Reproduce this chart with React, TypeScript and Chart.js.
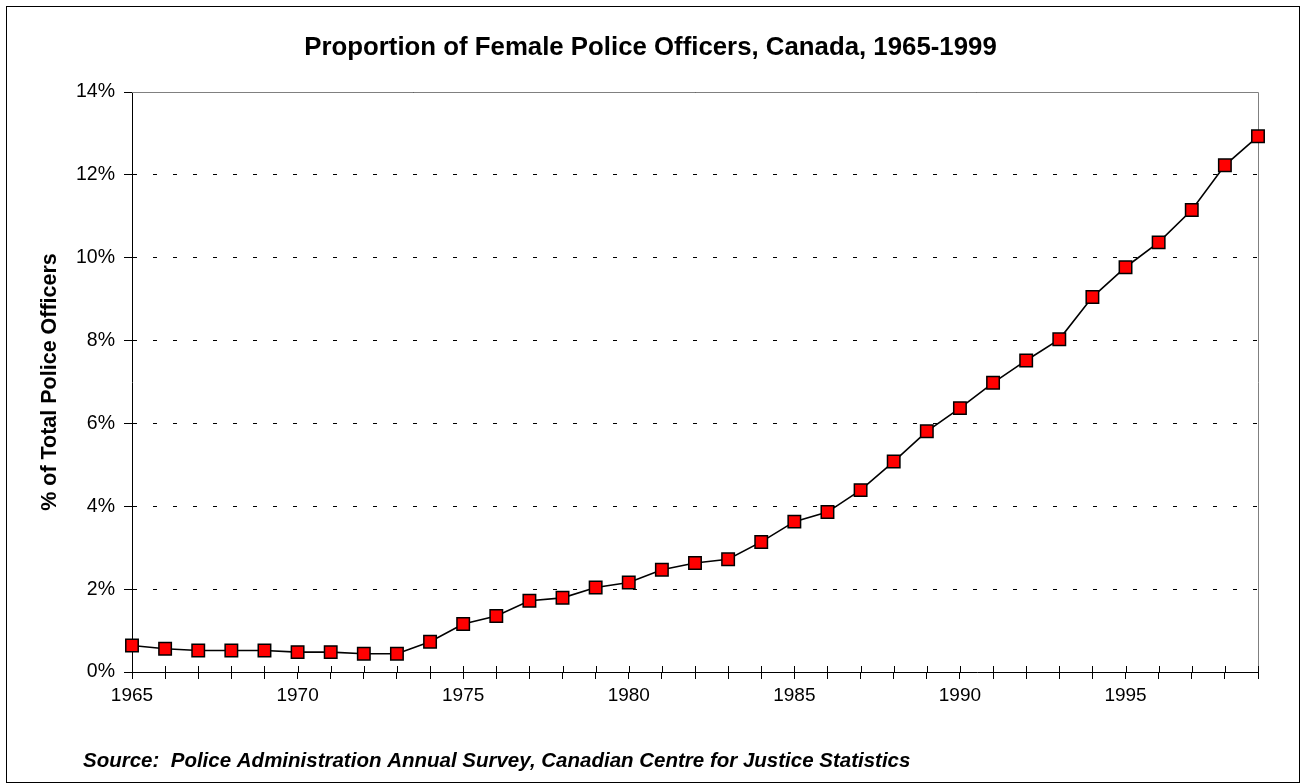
import React, { useEffect, useRef } from "react";
import { Chart, registerables } from "chart.js";

Chart.register(...registerables);

const FONT = "'Liberation Sans', Arial, Helvetica, sans-serif";

const years = [
  "1965", "1966", "1967", "1968", "1969", "1970", "1971", "1972", "1973", "1974",
  "1975", "1976", "1977", "1978", "1979", "1980", "1981", "1982", "1983", "1984",
  "1985", "1986", "1987", "1988", "1989", "1990", "1991", "1992", "1993", "1994",
  "1995", "1996", "1997", "1998", "1999",
];

const femaleOfficerPct = [
  0.64, 0.56, 0.52, 0.52, 0.52, 0.48, 0.48, 0.44, 0.44, 0.73,
  1.16, 1.35, 1.72, 1.79, 2.04, 2.16, 2.47, 2.63, 2.72, 3.14,
  3.63, 3.86, 4.39, 5.08, 5.81, 6.37, 6.98, 7.52, 8.03, 9.05,
  9.77, 10.37, 11.15, 12.23, 12.93,
];

const xLabelYears = ["1965", "1970", "1975", "1980", "1985", "1990", "1995"];

const chartTitle = "Proportion of Female Police Officers, Canada, 1965-1999";
const yAxisTitle = "% of Total Police Officers";
const sourceNote =
  "Source:  Police Administration Annual Survey, Canadian Centre for Justice Statistics";

const textPlugin = {
  id: "textDecor",
  afterDraw(chart: any) {
    const ctx = chart.ctx;
    ctx.save();
    ctx.fillStyle = "#000";
    ctx.textBaseline = "alphabetic";
    ctx.textAlign = "center";
    ctx.font = `bold 25.8px ${FONT}`;
    ctx.fillText(chartTitle, chart.width / 2, 55);
    ctx.textAlign = "left";
    ctx.font = `italic bold 20.5px ${FONT}`;
    ctx.fillText(sourceNote, 83, 767);
    ctx.restore();
  },
};

const plotFramePlugin = {
  id: "plotFrame",
  beforeDatasetsDraw(chart: any) {
    const { ctx, chartArea } = chart;
    const { left, right, top, bottom } = chartArea;
    ctx.save();
    ctx.strokeStyle = "#808080";
    ctx.lineWidth = 1;
    ctx.setLineDash([]);
    ctx.beginPath();
    ctx.moveTo(left, Math.round(top) + 0.5);
    ctx.lineTo(Math.round(right) + 0.5, Math.round(top) + 0.5);
    ctx.lineTo(Math.round(right) + 0.5, bottom);
    ctx.stroke();
    const xs = chart.scales.x;
    ctx.strokeStyle = "#000";
    ctx.beginPath();
    xs.ticks.forEach((_: any, i: number) => {
      const px = Math.round(xs.getPixelForTick(i)) + 0.5;
      ctx.moveTo(px, bottom - 6);
      ctx.lineTo(px, bottom);
    });
    ctx.stroke();
    ctx.restore();
  },
};

export default function App() {
  const canvasRef = useRef<HTMLCanvasElement | null>(null);

  useEffect(() => {
    document.body.style.margin = "0";
    document.body.style.overflow = "hidden";
    const canvas = canvasRef.current;
    if (!canvas) return;
    const chart = new Chart(canvas, {
      type: "line",
      data: {
        labels: years,
        datasets: [
          {
            data: femaleOfficerPct,
            borderColor: "#000",
            borderWidth: 1.6,
            tension: 0,
            pointStyle: "rect",
            pointRadius: 8.8,
            pointHoverRadius: 8.8,
            pointBackgroundColor: "#FF0000",
            pointBorderColor: "#000",
            pointBorderWidth: 1.5,
            clip: false as any,
          },
        ],
      },
      plugins: [plotFramePlugin, textPlugin],
      options: {
        animation: false,
        responsive: false,
        devicePixelRatio: 1,
        events: [],
        layout: { padding: { top: 92, right: 43, bottom: 62, left: 0 } },
        plugins: {
          legend: { display: false },
          tooltip: { enabled: false },
          title: { display: false },
        },
        scales: {
          x: {
            type: "category",
            offset: false,
            grid: {
              display: true,
              drawOnChartArea: false,
              drawTicks: true,
              tickLength: 7,
              color: "#000",
              tickColor: "#000",
              tickWidth: 1,
            },
            border: { display: true, color: "#000", width: 1 },
            ticks: {
              autoSkip: false,
              maxRotation: 0,
              minRotation: 0,
              padding: 5,
              color: "#000",
              font: { family: FONT, size: 19 },
              callback: (_v: any, index: number) =>
                xLabelYears.includes(years[index]) ? years[index] : "",
            },
            afterFit: (s: any) => {
              s.height = 50;
            },
          },
          y: {
            min: 0,
            max: 14,
            grid: {
              color: "#000",
              lineWidth: 1,
              drawTicks: true,
              tickLength: 8,
              tickColor: "#000",
              tickWidth: 1,
              tickBorderDash: [],
            },
            border: { display: true, color: "#000", width: 1, dash: [4, 16] },
            ticks: {
              stepSize: 2,
              padding: 9,
              color: "#000",
              font: { family: FONT, size: 19.5 },
              callback: (v: any) => `${v}%`,
            },
            title: {
              display: true,
              text: yAxisTitle,
              color: "#000",
              font: { family: FONT, size: 21.5, weight: "bold" },
              padding: { top: 37, bottom: 0 },
            },
            afterFit: (s: any) => {
              s.width = 132;
            },
          },
        },
      } as any,
    });
    return () => chart.destroy();
  }, []);

  return (
    <div style={{ position: "relative", width: 1301, height: 784, background: "#fff" }}>
      <div
        style={{
          position: "absolute",
          left: 6,
          top: 6,
          width: 1294,
          height: 777,
          boxSizing: "border-box",
          border: "1px solid #000",
        }}
      />
      <canvas
        ref={canvasRef}
        width={1301}
        height={784}
        style={{ position: "absolute", left: 0, top: 0, display: "block" }}
      />
    </div>
  );
}
